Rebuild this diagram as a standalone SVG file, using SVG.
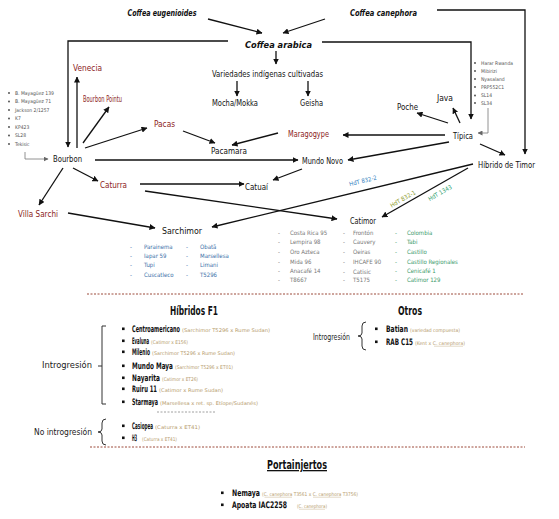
<svg xmlns="http://www.w3.org/2000/svg" width="559" height="519" viewBox="0 0 559 519">
<defs>
<marker id="ah" markerWidth="6" markerHeight="6" refX="5.5" refY="3" orient="auto" markerUnits="userSpaceOnUse">
<path d="M0,0 L6,3 L0,6 z" fill="#111"/>
</marker>
<marker id="ahg" markerWidth="5" markerHeight="5" refX="4.5" refY="2.5" orient="auto" markerUnits="userSpaceOnUse">
<path d="M0,0 L5,2.5 L0,5 z" fill="#666"/>
</marker>
<style>
text{font-family:"Liberation Sans Narrow","DejaVu Sans Condensed","Liberation Sans",sans-serif;}
.n{font-size:9px;fill:#111;text-anchor:middle;}
.r{fill:#8b2222;}
.sp{font-style:italic;font-weight:bold;}
.c{stroke:#111;stroke-width:1.3;fill:none;marker-end:url(#ah);}
.g{stroke:#777;stroke-width:0.8;fill:none;marker-end:url(#ahg);}
.li{font-size:5px;fill:#555;}
.sb{font-size:6px;fill:#3b6fa8;}
.cg{font-size:6px;fill:#777;}
.cv{font-size:6px;fill:#3a9a6a;}
.it{font-size:9px;font-weight:bold;fill:#111;}
.pa{font-size:5px;fill:#b59a6a;}
.u{stroke:#b59a6a;stroke-width:0.4;}
.h{font-size:13px;font-weight:bold;fill:#111;text-anchor:middle;}
.lb{font-size:8px;fill:#222;}
.dot{stroke:#9c4a3a;stroke-width:1;stroke-dasharray:2 1.5;}
.bk{stroke:#333;stroke-width:1;fill:none;}
</style>
</defs>

<g id="connectors">
<path class="c" d="M208,19 L262,33"/>
<path class="c" d="M325,19 L283,33"/>
<path class="c" d="M228,41 H68 V147"/>
<path class="c" d="M322,42 H471 V119"/>
<path class="c" d="M437,10 H525 V154"/>
<path class="c" d="M276,51 V64"/>
<path class="c" d="M237,81 V96"/>
<path class="c" d="M308,81 V96"/>
<path class="c" d="M77,148 V77"/>
<path class="c" d="M83,143 L109,107"/>
<path class="c" d="M85,148 L147,128"/>
<path class="c" d="M183,131 L215,143"/>
<path class="c" d="M278,133 L232,145"/>
<path class="c" d="M445,135 H343"/>
<path class="c" d="M448,123 L417,113"/>
<path class="c" d="M460,123 L453,108"/>
<path class="c" d="M449,142 L348,160"/>
<path class="c" d="M480,144 L505,155"/>
<path class="c" d="M95,160 H298"/>
<path class="c" d="M302,169 L273,180"/>
<path class="c" d="M73,168 L98,181"/>
<path class="c" d="M140,184 H244"/>
<path class="c" d="M63,168 L39,205"/>
<path class="c" d="M68,213 L155,228"/>
<path class="c" d="M473,164 L212,227"/>
<path class="c" d="M145,191 L337,219"/>
<path class="c" d="M468,168 L382,217"/>
<path class="g" d="M25,152 V159 H48"/>
<path class="g" d="M488,108 V133 H478"/>
<text x="363" y="183" font-size="6" fill="#2f7fc1" text-anchor="middle" transform="rotate(-14 363 181)">HdT 832-2</text>
<text x="403" y="201" font-size="6" fill="#8c9a2b" text-anchor="middle" transform="rotate(-30 403 199)">HdT 832-1</text>
<text x="440" y="195" font-size="6" fill="#2e9e6a" text-anchor="middle" transform="rotate(-30 440 193)">HdT 1343</text>
</g>

<g id="species">
<text id="eugenioides" class="n sp" x="162" y="16" font-size="10.5" textLength="69" lengthAdjust="spacingAndGlyphs">Coffea eugenioides</text>
<text id="canephora" class="n sp" x="383.5" y="16" font-size="10.5" textLength="67" lengthAdjust="spacingAndGlyphs">Coffea canephora</text>
<text id="arabica" class="n sp" x="278.5" y="48" font-size="14" textLength="67" lengthAdjust="spacingAndGlyphs">Coffea arabica</text>
</g>

<g id="nodes">
<g id="variedades"><text class="n" x="267.5" y="77" textLength="111" lengthAdjust="spacingAndGlyphs">Variedades indígenas cultivadas</text></g>
<g id="mocha"><text class="n" x="235" y="106" textLength="46" lengthAdjust="spacingAndGlyphs">Mocha/Mokka</text></g>
<g id="geisha"><text class="n" x="311.5" y="106" textLength="23" lengthAdjust="spacingAndGlyphs">Geisha</text></g>
<g id="venecia"><text class="n r" x="87.5" y="71" textLength="29" lengthAdjust="spacingAndGlyphs">Venecia</text></g>
<g id="pointu"><text class="n r" x="102.5" y="102" textLength="39" lengthAdjust="spacingAndGlyphs">Bourbon Pointu</text></g>
<g id="pacas"><text class="n r" x="164.5" y="127" textLength="21" lengthAdjust="spacingAndGlyphs">Pacas</text></g>
<g id="pacamara"><text class="n" x="229" y="154" textLength="36" lengthAdjust="spacingAndGlyphs">Pacamara</text></g>
<g id="maragogype"><text class="n r" x="308.5" y="137" textLength="41" lengthAdjust="spacingAndGlyphs">Maragogype</text></g>
<g id="poche"><text class="n" x="407.5" y="110" textLength="21" lengthAdjust="spacingAndGlyphs">Poche</text></g>
<g id="java"><text class="n" x="445" y="101" textLength="16" lengthAdjust="spacingAndGlyphs">Java</text></g>
<g id="tipica"><text class="n" x="463" y="139" textLength="20" lengthAdjust="spacingAndGlyphs">Típica</text></g>
<g id="hdt"><text class="n" x="506.5" y="168" textLength="57" lengthAdjust="spacingAndGlyphs">Híbrido de Timor</text></g>
<g id="bourbon"><text class="n" x="67.5" y="162" textLength="29" lengthAdjust="spacingAndGlyphs">Bourbon</text></g>
<g id="mundonovo"><text class="n" x="322.5" y="164" textLength="41" lengthAdjust="spacingAndGlyphs">Mundo Novo</text></g>
<g id="caturra"><text class="n r" x="113.5" y="188" textLength="27" lengthAdjust="spacingAndGlyphs">Caturra</text></g>
<g id="catuai"><text class="n" x="256.5" y="190" textLength="23" lengthAdjust="spacingAndGlyphs">Catuaí</text></g>
<g id="villasarchi"><text class="n r" x="38" y="217" textLength="40" lengthAdjust="spacingAndGlyphs">Villa Sarchi</text></g>
<g id="sarchimor"><text class="n" x="182" y="234" font-size="10" textLength="40" lengthAdjust="spacingAndGlyphs">Sarchimor</text></g>
<g id="catimor"><text class="n" x="363" y="224" font-size="10" textLength="26" lengthAdjust="spacingAndGlyphs">Catimor</text></g>
</g>

<g id="bourbon-list">
<g fill="#444"><circle cx="9" cy="93" r="0.9"/><circle cx="9" cy="101.5" r="0.9"/><circle cx="9" cy="110" r="0.9"/><circle cx="9" cy="118.5" r="0.9"/><circle cx="9" cy="127" r="0.9"/><circle cx="9" cy="135.5" r="0.9"/><circle cx="9" cy="144" r="0.9"/></g>
<text class="li" x="15" y="94.7">B. Mayagüez 139</text>
<text class="li" x="15" y="103.2">B. Mayagüez 71</text>
<text class="li" x="15" y="111.7">Jackson 2/1257</text>
<text class="li" x="15" y="120.2">K7</text>
<text class="li" x="15" y="128.7">KP423</text>
<text class="li" x="15" y="137.2">SL28</text>
<text class="li" x="15" y="145.7">Tekisic</text>
</g>

<g id="tipica-list">
<g fill="#444"><circle cx="475" cy="63" r="0.9"/><circle cx="475" cy="71" r="0.9"/><circle cx="475" cy="79" r="0.9"/><circle cx="475" cy="87" r="0.9"/><circle cx="475" cy="95.5" r="0.9"/><circle cx="475" cy="103" r="0.9"/></g>
<text class="li" x="481" y="64.7">Harar Rwanda</text>
<text class="li" x="481" y="72.7">Mibirizi</text>
<text class="li" x="481" y="80.7">Nyasaland</text>
<text class="li" x="481" y="88.7">PRP552C1</text>
<text class="li" x="481" y="97.2">SL14</text>
<text class="li" x="481" y="104.7">SL34</text>
</g>

<g id="sarchimor-list">
<text class="sb" x="130" y="249">-</text><text class="sb" x="144" y="249">Parainema</text>
<text class="sb" x="130" y="258">-</text><text class="sb" x="144" y="258">Iapar 59</text>
<text class="sb" x="130" y="267">-</text><text class="sb" x="144" y="267">Tupi</text>
<text class="sb" x="130" y="277">-</text><text class="sb" x="144" y="277">Cuscatleco</text>
<text class="sb" x="186" y="249">-</text><text class="sb" x="200" y="249">Obatã</text>
<text class="sb" x="186" y="258">-</text><text class="sb" x="200" y="258">Marsellesa</text>
<text class="sb" x="186" y="267">-</text><text class="sb" x="200" y="267">Limani</text>
<text class="sb" x="186" y="277">-</text><text class="sb" x="200" y="277">T5296</text>
</g>

<g id="catimor-list">
<text class="cg" x="278" y="235">-</text><text class="cg" x="290" y="235">Costa Rica 95</text>
<text class="cg" x="278" y="244">-</text><text class="cg" x="290" y="244">Lempira 98</text>
<text class="cg" x="278" y="254">-</text><text class="cg" x="290" y="254">Oro Azteca</text>
<text class="cg" x="278" y="264">-</text><text class="cg" x="290" y="264">Mida 96</text>
<text class="cg" x="278" y="273">-</text><text class="cg" x="290" y="273">Anacafé 14</text>
<text class="cg" x="278" y="282">-</text><text class="cg" x="290" y="282">T8667</text>
<text class="cg" x="343" y="235">-</text><text class="cg" x="353" y="235">Frontón</text>
<text class="cg" x="343" y="244">-</text><text class="cg" x="353" y="244">Cauvery</text>
<text class="cg" x="343" y="254">-</text><text class="cg" x="353" y="254">Oeiras</text>
<text class="cg" x="343" y="264">-</text><text class="cg" x="353" y="264">IHCAFE 90</text>
<text class="cg" x="343" y="274">-</text><text class="cg" x="353" y="274">Catisic</text>
<text class="cg" x="343" y="282">-</text><text class="cg" x="353" y="282">T5175</text>
<text class="cv" x="395" y="235">-</text><text class="cv" x="407" y="235">Colombia</text>
<text class="cv" x="395" y="244">-</text><text class="cv" x="407" y="244">Tabi</text>
<text class="cv" x="395" y="254">-</text><text class="cv" x="407" y="254">Castillo</text>
<text class="cv" x="395" y="264">-</text><text class="cv" x="407" y="264">Castillo Regionales</text>
<text class="cv" x="395" y="273">-</text><text class="cv" x="407" y="273">Cenicafé 1</text>
<text class="cv" x="395" y="282">-</text><text class="cv" x="407" y="282">Catimor 129</text>
</g>

<g id="separators">
<line class="dot" x1="87" y1="294" x2="523" y2="294"/>
<line x1="157" y1="412" x2="215" y2="412" stroke="#888" stroke-width="0.8" stroke-dasharray="2 1.5"/>
<line class="dot" x1="90" y1="447" x2="525" y2="447"/>
</g>

<g id="hibridos">
<text class="h" x="194" y="315" textLength="48" lengthAdjust="spacingAndGlyphs">Híbridos F1</text>
<path class="bk" d="M106,326 H102 V404 H106 M102,366 H98"/>
<text class="lb" x="92" y="368" text-anchor="end" textLength="50" lengthAdjust="spacingAndGlyphs">Introgresión</text>
<g fill="#111"><rect x="122" y="327.5" width="2.6" height="2.6"/><rect x="122" y="339.5" width="2.6" height="2.6"/><rect x="122" y="350.5" width="2.6" height="2.6"/><rect x="122" y="364.5" width="2.6" height="2.6"/><rect x="122" y="376.5" width="2.6" height="2.6"/><rect x="122" y="387.5" width="2.6" height="2.6"/><rect x="122" y="400.5" width="2.6" height="2.6"/><rect x="122" y="424.5" width="2.6" height="2.6"/><rect x="122" y="436.5" width="2.6" height="2.6"/></g>
<text class="it" transform="translate(132,332) scale(0.5,1)" textLength="96" lengthAdjust="spacingAndGlyphs">Centroamericano</text><text class="pa" x="182" y="332" textLength="88" lengthAdjust="spacingAndGlyphs">(Sarchimor T5296 x Rume Sudan)</text>
<text class="it" transform="translate(132,344) scale(0.5,1)" textLength="34" lengthAdjust="spacingAndGlyphs">Evaluna</text><text class="pa" x="151" y="344" textLength="37" lengthAdjust="spacingAndGlyphs">(Catimor x E156)</text>
<text class="it" transform="translate(132,355) scale(0.5,1)" textLength="36" lengthAdjust="spacingAndGlyphs">Milenio</text><text class="pa" x="152" y="355" textLength="83" lengthAdjust="spacingAndGlyphs">(Sarchimor T5296 x Rume Sudan)</text>
<text class="it" transform="translate(132,369) scale(0.5,1)" textLength="82" lengthAdjust="spacingAndGlyphs">Mundo Maya</text><text class="pa" x="175" y="369" textLength="58" lengthAdjust="spacingAndGlyphs">(Sarchimor T5296 x ET01)</text>
<text class="it" transform="translate(132,381) scale(0.5,1)" textLength="56" lengthAdjust="spacingAndGlyphs">Nayarita</text><text class="pa" x="162" y="381" textLength="36" lengthAdjust="spacingAndGlyphs">(Catimor x ET26)</text>
<text class="it" transform="translate(132,392) scale(0.5,1)" textLength="50" lengthAdjust="spacingAndGlyphs">Ruiru 11</text><text class="pa" x="159" y="392" textLength="64" lengthAdjust="spacingAndGlyphs">(Catimor x Rume Sudan)</text>
<text class="it" transform="translate(132,405) scale(0.5,1)" textLength="52" lengthAdjust="spacingAndGlyphs">Starmaya</text><text class="pa" x="160" y="405" textLength="98" lengthAdjust="spacingAndGlyphs">(Marsellesa x ret. sp. Etíope/Sudanés)</text>
<path class="bk" d="M106,419 Q102,419 102,423 V429 Q102,432 98,432 Q102,432 102,435 V441 Q102,445 106,445"/>
<text class="lb" x="92" y="435" text-anchor="end" textLength="58" lengthAdjust="spacingAndGlyphs">No introgresión</text>
<text class="it" transform="translate(132,429) scale(0.5,1)" textLength="42" lengthAdjust="spacingAndGlyphs">Casiopea</text><text class="pa" x="155" y="429" textLength="45" lengthAdjust="spacingAndGlyphs">(Caturra x ET41)</text>
<text class="it" transform="translate(132,441) scale(0.5,1)" textLength="10" lengthAdjust="spacingAndGlyphs">H3</text><text class="pa" x="142" y="441" textLength="35" lengthAdjust="spacingAndGlyphs">(Caturra x ET41)</text>
</g>

<g id="otros">
<text class="h" x="410" y="315" textLength="24" lengthAdjust="spacingAndGlyphs">Otros</text>
<text class="lb" x="313" y="340" textLength="37" lengthAdjust="spacingAndGlyphs">Introgresión</text>
<path class="bk" d="M366,322 Q362,322 362,326 V333 Q362,336 358,336 Q362,336 362,339 V346 Q362,350 366,350"/>
<g fill="#111"><rect x="375" y="327.5" width="2.6" height="2.6"/><rect x="375" y="340.5" width="2.6" height="2.6"/></g>
<text class="it" transform="translate(386,332) scale(0.5,1)" textLength="44" lengthAdjust="spacingAndGlyphs">Batian</text><text class="pa" x="410" y="332" textLength="50" lengthAdjust="spacingAndGlyphs">(variedad compuesta)</text>
<text class="it" transform="translate(386,345) scale(0.5,1)" textLength="54" lengthAdjust="spacingAndGlyphs">RAB C15</text><text class="pa" x="415" y="345" textLength="50" lengthAdjust="spacingAndGlyphs">(Kent x C. canephora)</text>
<line class="u" x1="434" y1="346.2" x2="463" y2="346.2"/>
</g>

<g id="portainjertos">
<text class="h" x="297" y="469" font-size="12" text-decoration="underline" textLength="60" lengthAdjust="spacingAndGlyphs">Portainjertos</text>
<g fill="#111"><rect x="221" y="491.5" width="2.6" height="2.6"/><rect x="221" y="503.5" width="2.6" height="2.6"/></g>
<text class="it" transform="translate(232,496) scale(0.5,1)" textLength="56" lengthAdjust="spacingAndGlyphs">Nemaya</text><text class="pa" x="262" y="496" textLength="96" lengthAdjust="spacingAndGlyphs">(C. canephora T3561 x C. canephora T3756)</text>
<line class="u" x1="264.5" y1="497.2" x2="292" y2="497.2"/><line class="u" x1="313" y1="497.2" x2="341" y2="497.2"/>
<text class="it" transform="translate(232,508) scale(0.5,1)" textLength="110" lengthAdjust="spacingAndGlyphs">Apoata IAC2258</text><text class="pa" x="297" y="508" textLength="30" lengthAdjust="spacingAndGlyphs">(C. canephora)</text>
<line class="u" x1="299" y1="509.2" x2="325" y2="509.2"/>
</g>
</svg>
